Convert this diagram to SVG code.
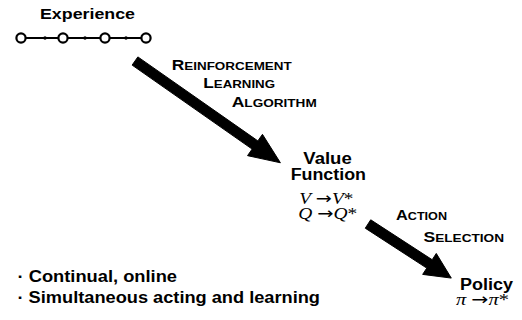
<svg xmlns="http://www.w3.org/2000/svg" width="522" height="320" viewBox="0 0 522 320">
  <style>
    .lbl { font-family: "Liberation Sans", Arial, Helvetica, sans-serif; font-weight: bold; fill: #000; }
    .math { font-family: "Liberation Serif", "Times New Roman", serif; fill: #000; font-size: 16.5px; }
    .it { font-style: italic; }
    .to { font-family: "DejaVu Sans", sans-serif; font-style: normal; }
    .big { font-size: 15px; }
    .sc { font-size: 11.6px; }
    .arrow { fill: #000; stroke: #000; stroke-width: 1; stroke-linejoin: round; }
    .chain { stroke: #000; stroke-width: 2.2; fill: none; }
    .state { fill: #fff; stroke: #000; stroke-width: 2.2; }
  </style>
  <rect width="522" height="320" fill="#fff"/>

  <!-- experience: a trajectory of states and actions -->
  <g id="experience">
    <text class="lbl" x="40" y="19" font-size="15.5" textLength="95" lengthAdjust="spacingAndGlyphs">Experience</text>
    <line class="chain" x1="21" y1="38" x2="146" y2="38"/>
    <circle class="state" cx="21" cy="38" r="4.6"/>
    <circle class="state" cx="63" cy="38" r="4.6"/>
    <circle class="state" cx="105" cy="38" r="4.6"/>
    <circle class="state" cx="146" cy="38" r="4.6"/>
    <circle cx="45" cy="38" r="1.7" fill="#000"/>
    <circle cx="85" cy="38" r="1.7" fill="#000"/>
    <circle cx="126" cy="38" r="1.7" fill="#000"/>
  </g>

  <!-- connectors -->
  <g id="connectors">
    <polygon id="rl-arrow" class="arrow" points="132.13,65.10 137.87,56.90 257.87,140.90 262.46,134.35 280.40,162.78 247.54,155.65 252.13,149.10"/>
    <polygon id="action-arrow" class="arrow" points="365.28,228.19 370.72,219.81 432.20,259.73 436.29,253.44 451.29,278.08 422.67,274.40 426.76,268.11"/>
  </g>

  <g id="rl-label">
    <text class="lbl" x="171.7" y="69.5" textLength="120" lengthAdjust="spacingAndGlyphs"><tspan class="big">R</tspan><tspan class="sc">EINFORCEMENT</tspan></text>
    <text class="lbl" x="203.3" y="88.3" textLength="71.7" lengthAdjust="spacingAndGlyphs"><tspan class="big">L</tspan><tspan class="sc">EARNING</tspan></text>
    <text class="lbl" x="231.7" y="106.7" textLength="85" lengthAdjust="spacingAndGlyphs"><tspan class="big">A</tspan><tspan class="sc">LGORITHM</tspan></text>
  </g>

  <g id="value-function">
    <text class="lbl" x="303.3" y="163.5" font-size="16" textLength="48.4" lengthAdjust="spacingAndGlyphs">Value</text>
    <text class="lbl" x="290.7" y="180.3" font-size="16" textLength="75.3" lengthAdjust="spacingAndGlyphs">Function</text>
    <text class="math" x="299.3" y="204" textLength="54" lengthAdjust="spacingAndGlyphs"><tspan class="it">V</tspan> <tspan class="to">→</tspan><tspan class="it">V</tspan>*</text>
    <text class="math" x="298.3" y="219" textLength="59" lengthAdjust="spacingAndGlyphs"><tspan class="it">Q</tspan> <tspan class="to">→</tspan><tspan class="it">Q</tspan>*</text>
  </g>

  <g id="action-label">
    <text class="lbl" x="396" y="219.5" textLength="51" lengthAdjust="spacingAndGlyphs"><tspan class="big">A</tspan><tspan class="sc">CTION</tspan></text>
    <text class="lbl" x="423.5" y="241.5" textLength="80.5" lengthAdjust="spacingAndGlyphs"><tspan class="big">S</tspan><tspan class="sc">ELECTION</tspan></text>
  </g>

  <g id="policy">
    <text class="lbl" x="460" y="290" font-size="16" textLength="53" lengthAdjust="spacingAndGlyphs">Policy</text>
    <text class="math" x="456" y="305" font-size="14" textLength="53" lengthAdjust="spacingAndGlyphs"><tspan class="it">π</tspan> <tspan class="to">→</tspan><tspan class="it">π</tspan>*</text>
  </g>

  <g id="notes">
    <text class="lbl" x="17.5" y="282.3" font-size="16.5" textLength="159.5" lengthAdjust="spacingAndGlyphs">· Continual, online</text>
    <text class="lbl" x="17.5" y="303.3" font-size="16.5" textLength="302.5" lengthAdjust="spacingAndGlyphs">· Simultaneous acting and learning</text>
  </g>
</svg>
